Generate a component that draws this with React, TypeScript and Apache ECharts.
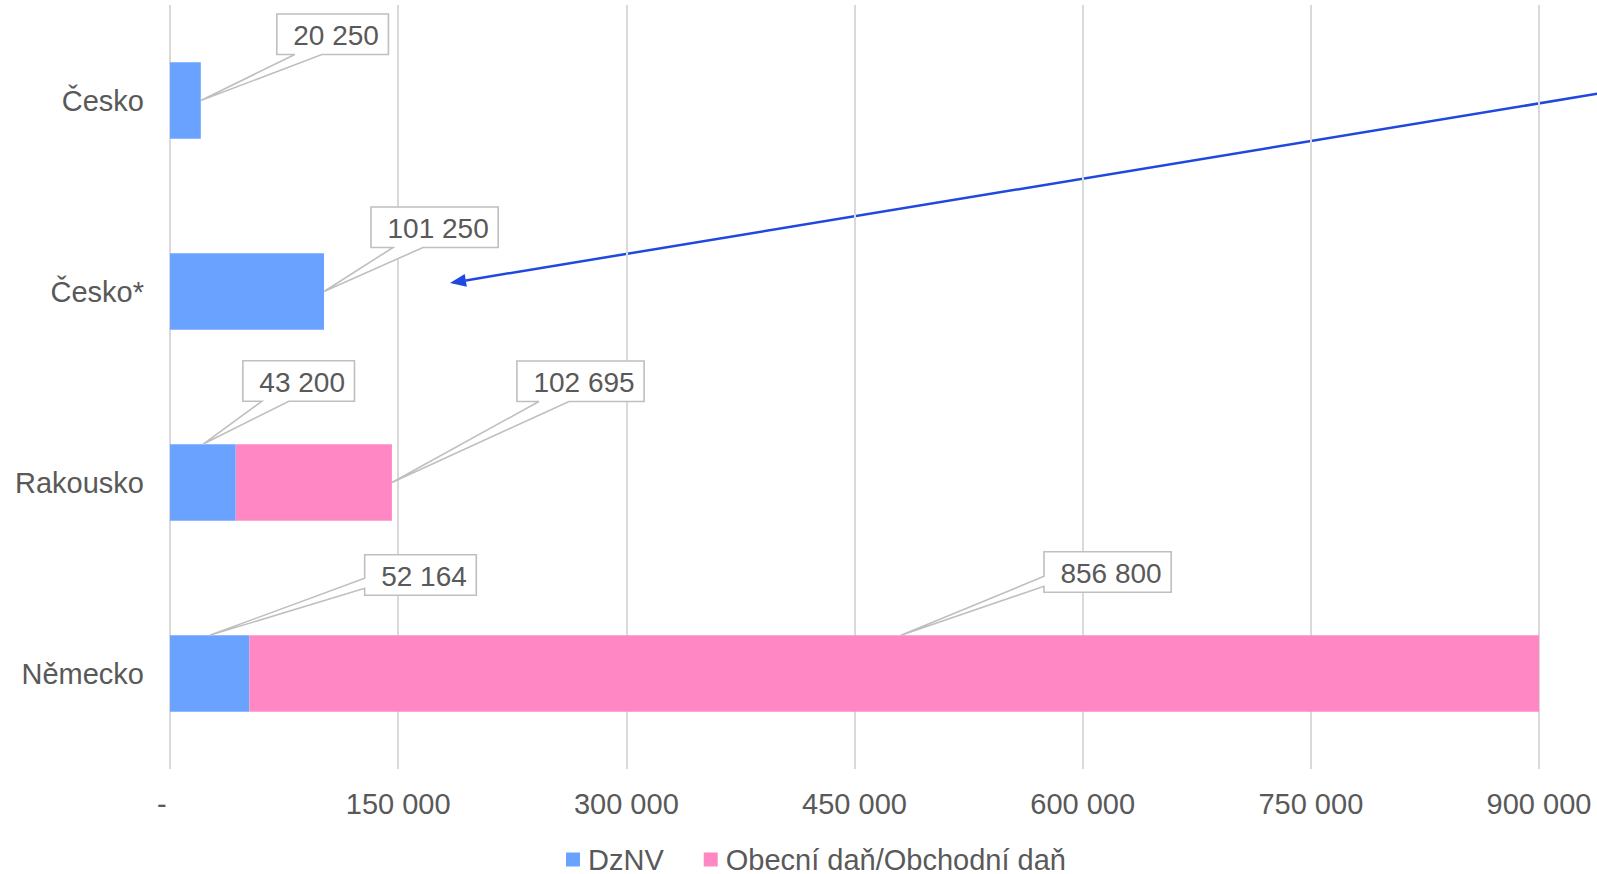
import React, { useEffect, useRef } from "react";
import * as echarts from "echarts";

// ---- data ----
const categories = ["Česko", "Česko*", "Rakousko", "Německo"];
const dznv = [20250, 101250, 43200, 52164];
const obecniDan = [null, null, 102695, 856800];
const seriesNames = ["DzNV", "Obecní daň/Obchodní daň"];
const xTicks = [0, 150000, 300000, 450000, 600000, 750000, 900000];

// ---- callout layout (positions of the boxes relative to their anchor) ----
type Callout = {
  series: number;
  cat: number;
  anchor: "end" | "top";
  dx: number;
  dy: number;
  side: "bottom" | "left";
  a: number;
  b: number;
};
const calloutLayout: Callout[] = [
  { series: 0, cat: 0, anchor: "end", dx: 76, dy: -46, side: "bottom", a: 18, b: 45 },
  { series: 0, cat: 1, anchor: "end", dx: 47, dy: -44, side: "bottom", a: 22, b: 52 },
  { series: 0, cat: 2, anchor: "top", dx: 40, dy: -43, side: "bottom", a: 19, b: 46 },
  { series: 1, cat: 2, anchor: "end", dx: 125, dy: -81, side: "bottom", a: 22, b: 52 },
  { series: 0, cat: 3, anchor: "top", dx: 155, dy: -40, side: "left", a: -17, b: -7 },
  { series: 1, cat: 3, anchor: "top", dx: 143, dy: -43, side: "left", a: -16, b: -6 },
];

const FONT = "'Liberation Sans', Arial, sans-serif";
const TEXT = "#595959";
const BLUE = "#6AA3FF";
const PINK = "#FF88C4";

const fmt = (v: number) => String(Math.round(v)).replace(/\B(?=(\d{3})+(?!\d))/g, " ");

export default function App() {
  const ref = useRef<HTMLDivElement>(null);
  useEffect(() => {
    if (!ref.current) return;
    const chart = echarts.init(ref.current, undefined, { renderer: "svg" });

    const calloutData = calloutLayout.map((c, i) => {
      const val = c.series === 0 ? dznv[c.cat] : (obecniDan[c.cat] as number);
      const start = c.series === 0 ? 0 : dznv[c.cat];
      return [start, start + val, c.cat, i, val];
    });

    const LABEL_FS = 28;
    const textWidth = (s: string) => {
      let w = 0;
      for (const ch of s) w += ch === " " ? 0.278 : 0.556;
      return w * LABEL_FS;
    };

    // arrow geometry (annotation)
    const tip = [450, 283];
    const tail = [1602, 93];
    const ux = tail[0] - tip[0];
    const uy = tail[1] - tip[1];
    const len = Math.hypot(ux, uy);
    const nx = ux / len, ny = uy / len;
    const headL = 16, headW = 6.5;
    const bx = tip[0] + nx * headL, by = tip[1] + ny * headL;
    const px = -ny, py = nx;

    const option: any = {
      animation: false,
      backgroundColor: "#ffffff",
      textStyle: { fontFamily: FONT },
      grid: { left: 170, right: 58, top: 5, bottom: 105, containLabel: false },
      legend: {
        data: seriesNames,
        left: 561,
        top: 840,
        itemWidth: 14,
        itemHeight: 14,
        itemGap: 40,
        icon: "rect",
        textStyle: { fontSize: 29, color: TEXT, fontFamily: FONT, padding: [0, 0, 0, 3] },
      },
      xAxis: {
        type: "value",
        min: 0,
        max: 900000,
        interval: 150000,
        axisLine: { show: false },
        axisTick: { show: false },
        splitLine: { show: true, lineStyle: { color: "#D9D9D9", width: 2 } },
        axisLabel: {
          fontSize: 29,
          color: TEXT,
          fontFamily: FONT,
          margin: 20,
          formatter: (v: number) => (v === 0 ? "-  " : fmt(v)),
          customValues: xTicks,
        },
      },
      yAxis: {
        type: "category",
        data: categories,
        inverse: true,
        axisLine: { show: false },
        axisTick: { show: false },
        axisLabel: { fontSize: 29, color: TEXT, fontFamily: FONT, margin: 26 },
      },
      series: [
        {
          name: seriesNames[0],
          type: "bar",
          stack: "total",
          barWidth: "40%",
          itemStyle: { color: BLUE },
          data: dznv,
        },
        {
          name: seriesNames[1],
          type: "bar",
          stack: "total",
          barWidth: "40%",
          itemStyle: { color: PINK },
          data: obecniDan.map((v) => (v == null ? "-" : v)),
        },
        {
          type: "custom",
          name: "callouts",
          silent: true,
          z: 10,
          encode: { x: [0, 1], y: 2 },
          data: calloutData,
          renderItem: (params: any, api: any) => {
            const start = api.value(0);
            const end = api.value(1);
            const cat = api.value(2);
            const c = calloutLayout[api.value(3)];
            const label = fmt(api.value(4));
            const p0 = api.coord([start, cat]);
            const p1 = api.coord([end, cat]);
            const band = api.size([0, 1])[1];
            const barH = band * 0.4;
            let ax: number, ay: number;
            if (c.anchor === "end") {
              ax = p1[0];
              ay = p1[1];
            } else {
              ax = (p0[0] + p1[0]) / 2;
              ay = p0[1] - barH / 2;
            }
            const tw = textWidth(label);
            const w = tw + 26;
            const h = 40.5;
            const L = ax + c.dx;
            const B = ay + c.dy;
            const T = B - h;
            const R = L + w;
            let pts: number[][];
            if (c.side === "bottom") {
              pts = [[L, T], [R, T], [R, B], [L + c.b, B], [ax, ay], [L + c.a, B], [L, B]];
            } else {
              pts = [[L, T], [R, T], [R, B], [L, B], [L, B + c.b], [ax, ay], [L, B + c.a]];
            }
            return {
              type: "group",
              children: [
                {
                  type: "polygon",
                  shape: { points: pts },
                  style: { fill: "#ffffff", stroke: "#BFBFBF", lineWidth: 1.6 },
                },
                {
                  type: "text",
                  x: R - 9.5,
                  y: (T + B) / 2 + 1,
                  style: {
                    text: label,
                    fontSize: LABEL_FS,
                    fontFamily: FONT,
                    fill: TEXT,
                    align: "right",
                    verticalAlign: "middle",
                  },
                },
              ],
            };
          },
        },
      ],
      graphic: [
        {
          type: "group",
          silent: true,
          z: 20,
          children: [
            {
              type: "line",
              shape: { x1: tail[0], y1: tail[1], x2: bx, y2: by },
              style: { stroke: "#1E48DF", lineWidth: 2.5 },
            },
            {
              type: "polygon",
              shape: {
                points: [
                  [tip[0], tip[1]],
                  [bx + px * headW, by + py * headW],
                  [bx - px * headW, by - py * headW],
                ],
              },
              style: { fill: "#1E48DF" },
            },
          ],
        },
      ],
    };

    chart.setOption(option);
    return () => chart.dispose();
  }, []);

  return (
    <div
      ref={ref}
      style={{ position: "fixed", left: 0, top: 0, width: 1597, height: 874, background: "#fff" }}
    />
  );
}
